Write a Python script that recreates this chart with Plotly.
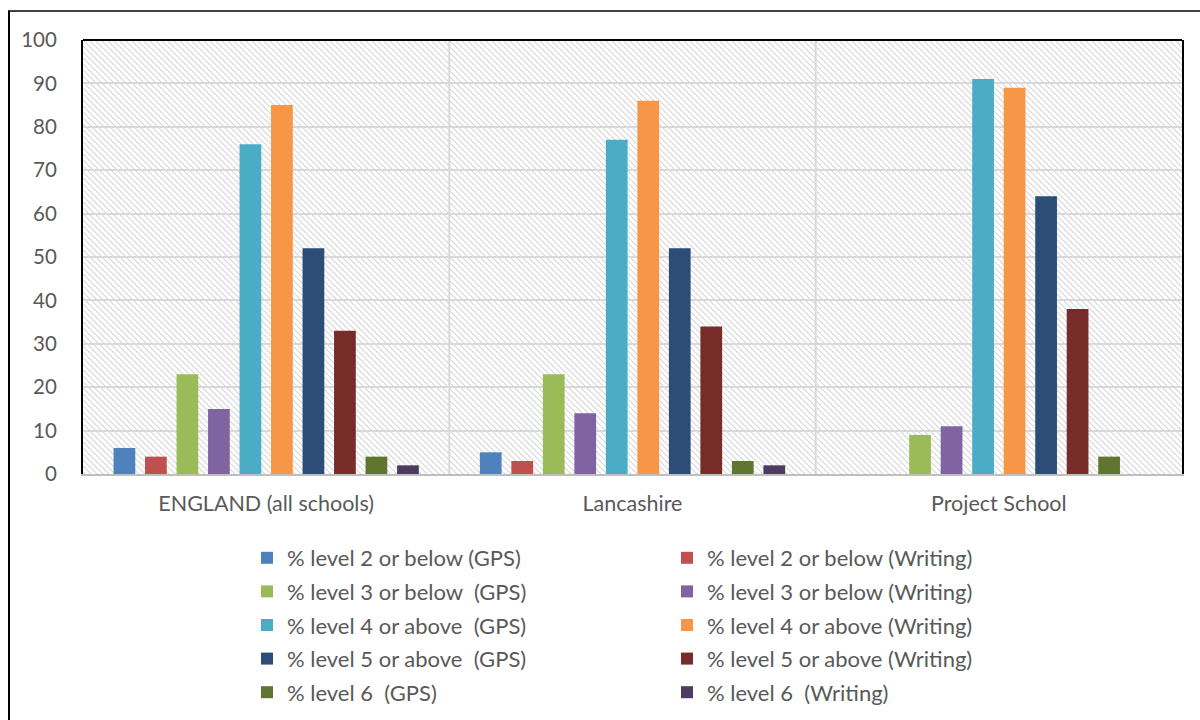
import base64
import plotly.graph_objects as go

# Key Stage 2 results: percentage of pupils at each level, GPS vs Writing
categories = ["ENGLAND (all schools)", "Lancashire", "Project School"]

series_names = [
    "% level 2 or below (GPS)",
    "% level 2 or below (Writing)",
    "% level 3 or below  (GPS)",
    "% level 3 or below (Writing)",
    "% level 4 or above  (GPS)",
    "% level 4 or above (Writing)",
    "% level 5 or above  (GPS)",
    "% level 5 or above (Writing)",
    "% level 6  (GPS)",
    "% level 6  (Writing)",
]

level2_gps = [6, 5, None]
level2_writing = [4, 3, None]
level3_gps = [23, 23, 9]
level3_writing = [15, 14, 11]
level4_gps = [76, 77, 91]
level4_writing = [85, 86, 89]
level5_gps = [52, 52, 64]
level5_writing = [33, 34, 38]
level6_gps = [4, 3, 4]
level6_writing = [2, 2, None]

series_values = [
    level2_gps, level2_writing, level3_gps, level3_writing, level4_gps,
    level4_writing, level5_gps, level5_writing, level6_gps, level6_writing,
]

series_colors = [
    "#4F81BD", "#C0504D", "#9BBB59", "#8064A2", "#4BACC6",
    "#F79646", "#2C4D75", "#772C2A", "#5F7530", "#4D3B62",
]

y_ticks = list(range(0, 101, 10))

# ---- layout geometry (pixels) ----
W, H = 1200, 720
ML, MR, MT, MB = 83, 18, 40, 246
PW, PH = W - ML - MR, H - MT - MB


def px_x(px):
    return (px - ML) / PW


def px_y(py):
    return (H - MB - py) / PH


FONT = "Lato, Calibri, Carlito, sans-serif"
TEXT = "#595959"

fig = go.Figure()
for i, (name, vals, col) in enumerate(zip(series_names, series_values, series_colors)):
    # GPS series in the left legend column, Writing series in the right one
    fig.add_trace(go.Bar(
        name=name, x=categories, y=vals,
        marker=dict(color=col, line=dict(width=0)),
        legend="legend" if i % 2 == 0 else "legend2",
        legendgroup=f"g{i}",
    ))

# diagonal hatch fill for the plotting area
hatch_svg = (
    f'<svg xmlns="http://www.w3.org/2000/svg" width="{PW}" height="{PH}" '
    f'viewBox="0 0 {PW} {PH}" preserveAspectRatio="none">'
    '<defs><pattern id="h" width="6" height="6" patternUnits="userSpaceOnUse">'
    '<path d="M0,0 L6,6 M-1,5 L1,7 M5,-1 L7,1" stroke="#d6d6d6" '
    'stroke-width="1.1"/></pattern></defs>'
    '<rect width="100%" height="100%" fill="url(#h)"/></svg>'
)
hatch_uri = "data:image/svg+xml;base64," + base64.b64encode(hatch_svg.encode()).decode()
fig.add_layout_image(
    source=hatch_uri, xref="paper", yref="paper", x=0, y=1,
    sizex=1, sizey=1, xanchor="left", yanchor="top",
    sizing="stretch", layer="below",
)

shapes = []
# category separators
for b in (0.5, 1.5):
    shapes.append(dict(type="line", xref="x", yref="paper", x0=b, x1=b, y0=0, y1=1,
                       line=dict(color="#D9D9D9", width=2), layer="between"))
# top border of plotting area
shapes.append(dict(type="line", xref="paper", yref="paper", x0=0, x1=1, y0=1, y1=1,
                   line=dict(color="black", width=2)))
# outer chart frame (left and top edges)
shapes.append(dict(type="line", xref="paper", yref="paper",
                   x0=px_x(9), x1=px_x(9), y0=px_y(11), y1=px_y(740),
                   line=dict(color="black", width=2)))
shapes.append(dict(type="line", xref="paper", yref="paper",
                   x0=px_x(8), x1=px_x(1220), y0=px_y(11), y1=px_y(11),
                   line=dict(color="black", width=1.5)))

legend_common = dict(
    orientation="v", xanchor="left", yanchor="top",
    y=px_y(537),
    tracegroupgap=2,
    font=dict(family=FONT, color=TEXT, size=22),
    itemclick=False, itemdoubleclick=False,
    bgcolor="rgba(0,0,0,0)",
)

fig.update_layout(
    width=W, height=H,
    margin=dict(l=ML, r=MR, t=MT, b=MB, pad=0, autoexpand=False),
    paper_bgcolor="white",
    plot_bgcolor="rgba(0,0,0,0)",
    barmode="group",
    bargap=0.14,
    bargroupgap=0.31,
    font=dict(family=FONT, color=TEXT, size=21),
    shapes=shapes,
    showlegend=True,
    legend=dict(x=px_x(247), **legend_common),
    legend2=dict(x=px_x(667), **legend_common),
    xaxis=dict(
        type="category",
        showgrid=False,
        showline=True, linecolor="#BFBFBF", linewidth=2,
        ticks="", ticklabelstandoff=9,
        tickfont=dict(family=FONT, color=TEXT, size=21.5),
    ),
    yaxis=dict(
        range=[0, 100],
        tickvals=y_ticks,
        showgrid=True, gridcolor="#D9D9D9", gridwidth=2,
        showline=True, linecolor="black", linewidth=2, mirror=True,
        zeroline=False,
        ticks="", ticklabelstandoff=20,
        tickfont=dict(family=FONT, color=TEXT, size=20.5),
    ),
)

fig.write_html("out.html")
